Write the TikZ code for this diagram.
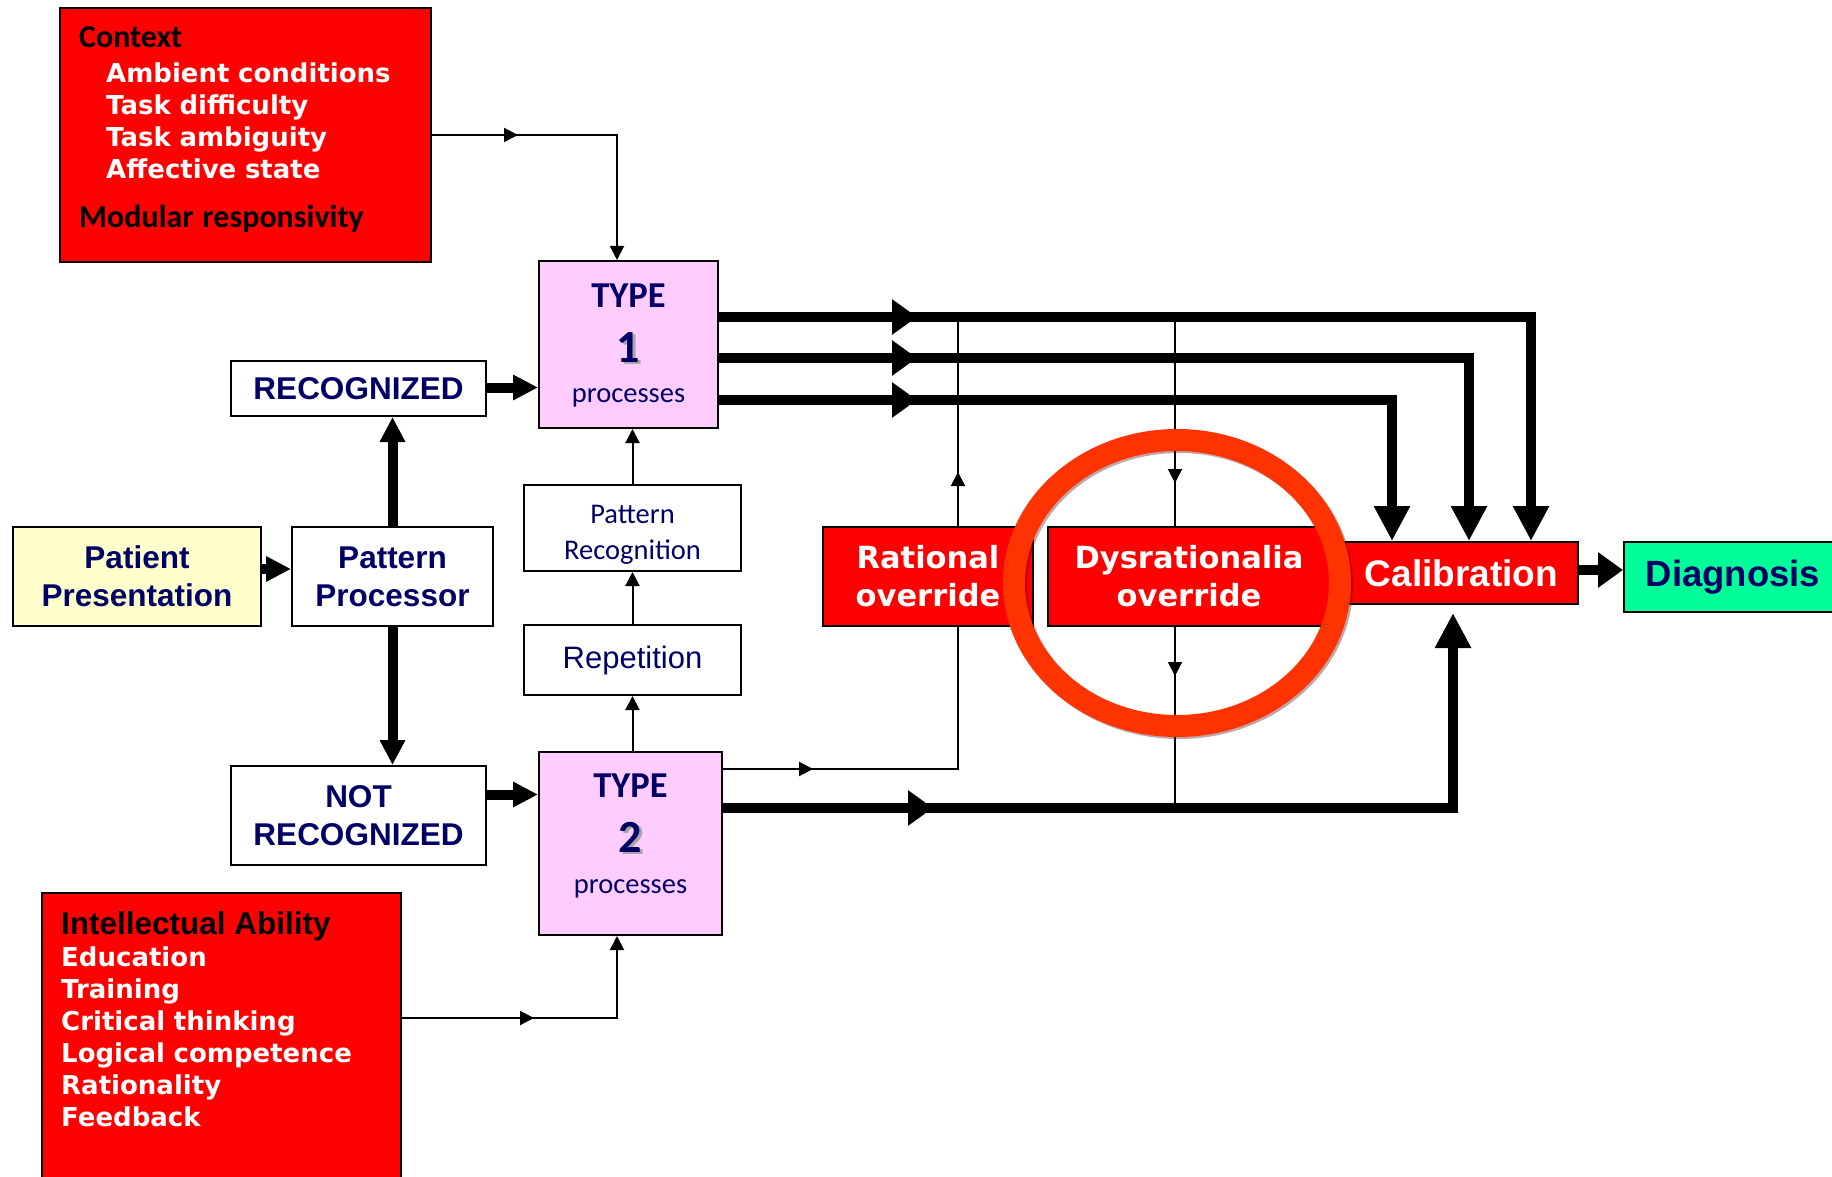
\documentclass[tikz,border=0pt]{standalone}
\usepackage{fontspec}
\usepackage{xcolor}
\usepackage{tikz}
\usetikzlibrary{arrows.meta,decorations.markings}
\setmainfont{Liberation Sans}
\newfontfamily\calibri{Carlito}
\newfontfamily\verdana{DejaVu Sans}
\definecolor{navytext}{HTML}{000066}
\definecolor{boxred}{HTML}{FF0000}
\definecolor{typepink}{HTML}{FFCCFF}
\definecolor{patientyellow}{HTML}{FFFFCC}
\definecolor{diaggreen}{HTML}{00FF99}
\definecolor{ringred}{HTML}{FF3300}
\newcommand\shadowdigit[1]{\leavevmode\rlap{\kern2.5pt\raisebox{-2.5pt}{\color{black!35}#1}}#1}

\begin{document}
\begin{tikzpicture}[x=1pt, y=-1pt,
  box/.style={rectangle, draw=black, line width=2pt, inner sep=0pt, align=center, text=navytext, fill=white},
  redbox/.style={box, fill=boxred, text=white},
  pinkbox/.style={box, fill=typepink, text width=170pt, text height=30pt, font=\calibri\fontsize{28.5}{40}\selectfont},
  bluefont/.style={font=\bfseries\fontsize{31.5}{38}\selectfont},
  thinline/.style={line width=2pt, draw=black},
  thinarrow/.style={thinline, -{Triangle[length=14pt,width=14pt]}},
  thickarrow/.style={line width=10pt, -{Triangle[length=25pt,width=24pt]}},
  bigarrow/.style={line width=10pt, -{Triangle[length=35pt,width=34pt]}},
  midthin/.style={postaction={decorate}, decoration={markings, mark=at position #1 with {\arrow{Triangle[length=14pt,width=14pt]}}}},
  midthick/.style={postaction={decorate}, decoration={markings, mark=at position #1 with {\arrow{Triangle[length=25pt,width=34pt]}}}}]
\useasboundingbox (0,0) rectangle (1832,1177);

\node[redbox, minimum width=371pt, minimum height=254pt] (context) at (245.5,135) {};
\node[pinkbox, text depth=105pt, minimum width=179pt, minimum height=167pt] (type1) at (628.5,344.5) {{\bfseries\fontsize{36.5}{40}\selectfont TYPE}\\[15pt]{\bfseries\fontsize{46}{40}\selectfont\shadowdigit{1}}\\[1pt]processes};
\node[box, bluefont, minimum width=255pt, minimum height=55pt] (recog) at (358.5,388.5) {RECOGNIZED};
\node[box, bluefont, fill=patientyellow, minimum width=248pt, minimum height=99pt] (patient) at (137,576.5) {Patient\\Presentation};
\node[box, bluefont, minimum width=201pt, minimum height=99pt] (pproc) at (392.5,576.5) {Pattern\\Processor};
\node[box, text width=200pt, text height=25pt, text depth=35pt, minimum width=217pt, minimum height=86pt, font=\calibri\fontsize{28.5}{36}\selectfont] (patrec) at (632.5,528) {Pattern\\Recognition};
\node[box, minimum width=217pt, minimum height=70pt, font=\fontsize{31}{36}\selectfont] (repet) at (632.5,660) {Repetition};
\node[box, bluefont, minimum width=255pt, minimum height=99pt] (notrec) at (358.5,815.5) {NOT\\RECOGNIZED};
\node[pinkbox, text depth=123pt, minimum width=183pt, minimum height=183pt] (type2) at (630.5,843.5) {{\bfseries\fontsize{36.5}{40}\selectfont TYPE}\\[15pt]{\bfseries\fontsize{46}{40}\selectfont\shadowdigit{2}}\\[1pt]processes};
\node[redbox, minimum width=359pt, minimum height=297pt] (intel) at (221.5,1041.5) {};
\node[redbox, minimum width=210pt, minimum height=99pt, font=\verdana\bfseries\fontsize{30.5}{38}\selectfont] (rational) at (928,576.5) {Rational\\override};
\node[redbox, minimum width=282pt, minimum height=99pt, font=\verdana\bfseries\fontsize{30.5}{38}\selectfont] (dysr) at (1189,576.5) {Dysrationalia\\override};
\node[redbox, minimum width=233pt, minimum height=62pt, font=\bfseries\fontsize{37}{40}\selectfont] (calib) at (1461.5,573) {Calibration};
\node[box, fill=diaggreen, minimum width=218pt, minimum height=70pt, font=\bfseries\fontsize{36.5}{40}\selectfont] (diag) at (1733,577) {Diagnosis};

\node[anchor=base west, text width=340pt, align=left, inner sep=0pt, text=white, font=\verdana\bfseries\fontsize{26}{32}\selectfont] (contexttext) at (79,48) {{\calibri\color{black}\fontsize{32}{32}\selectfont Context}\\[2.5pt]
\hspace*{27pt}Ambient conditions\\
\hspace*{27pt}Task difficulty\\
\hspace*{27pt}Task ambiguity\\
\hspace*{27pt}Affective state\\[17.5pt]
{\calibri\color{black}\fontsize{32}{32}\selectfont Modular responsivity}};
\node[anchor=base west, text width=340pt, align=left, inner sep=0pt, text=white, font=\verdana\bfseries\fontsize{26}{32}\selectfont] (inteltext) at (61,934) {{\rmfamily\color{black}\fontsize{31.5}{32}\selectfont Intellectual Ability}\\[0.5pt]
Education\\
Training\\
Critical thinking\\
Logical competence\\
Rationality\\
Feedback};

\coordinate (rtop) at (958,317);
\coordinate (dtop) at (1175,317);
\coordinate (dbot) at (1175,808);

\draw[thinarrow, midthin=86pt] (context.east) -| ([xshift=-11.5pt]type1.north);
\draw[thinarrow, midthin=132pt] ([yshift=23.5pt]intel.east) -| ([xshift=-13.5pt]type2.south);
\draw[thinarrow] (type2.north -| repet.south) -- (repet.south);
\draw[thinarrow] (repet.north) -- (patrec.south);
\draw[thinarrow] (patrec.north) -- (patrec.north |- type1.south);
\draw[thinline, midthin=90pt] ([yshift=74.5pt]type2.east) -| ([xshift=30pt]rational.south);
\draw[thinline, midthin=54pt] ([xshift=30pt]rational.north) -- (rtop);
\draw[thinline, midthin=166pt] (dtop) -- ([xshift=-14pt]dysr.north);
\draw[thinline, midthin=49pt] ([xshift=-14pt]dysr.south) -- (dbot);

\draw[thickarrow] ([yshift=7.5pt]patient.east) -- ([yshift=7.5pt]patient.east -| pproc.west);
\draw[thickarrow] (pproc.north) -- (recog.south -| pproc.north);
\draw[thickarrow] (pproc.south) -- (notrec.north -| pproc.south);
\draw[thickarrow] ([yshift=1pt]recog.east) -- ([yshift=1pt]recog.east -| type1.west);
\draw[thickarrow] ([yshift=21pt]notrec.east) -- ([yshift=21pt]notrec.east -| type2.west);

\draw[bigarrow, midthick=198pt] ([yshift=27.5pt]type1.east) -| ([xshift=69.5pt]calib.north);
\draw[bigarrow, midthick=198pt] ([yshift=-13.5pt]type1.east) -| ([xshift=7.5pt]calib.north);
\draw[bigarrow, midthick=198pt] ([yshift=-55.5pt]type1.east) -| ([xshift=-69.5pt]calib.north);
\draw[bigarrow, midthick=210pt, shorten >=8pt] ([yshift=35.5pt]type2.east) -| ([xshift=-8.5pt]calib.south);
\draw[line width=10pt, -{Triangle[length=25pt,width=34pt]}] ([yshift=3pt]calib.east) -- ([yshift=3pt]calib.east -| diag.west);

\coordinate (ringc) at (1177,583);
\draw[line width=22pt, draw=black!70!red, opacity=0.35] ([shift={(2,2)}]ringc) ellipse [x radius=163pt, y radius=143pt];
\draw[line width=22pt, draw=ringred] (ringc) ellipse [x radius=163pt, y radius=143pt];
\end{tikzpicture}
\end{document}
